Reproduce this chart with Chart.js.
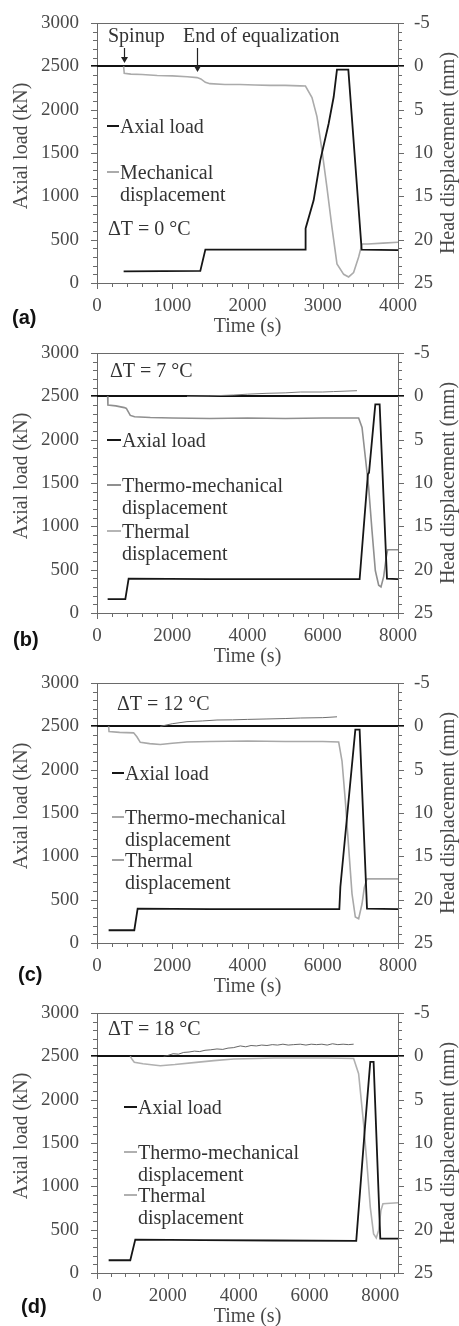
<!DOCTYPE html>
<html><head><meta charset="utf-8">
<script src="https://cdn.jsdelivr.net/npm/chart.js@4.4.1/dist/chart.umd.min.js"></script>
<style>
html,body{margin:0;padding:0;background:#fff;overflow:hidden;width:459px;height:1326px;position:relative;}
canvas{position:absolute;left:0;}
</style></head><body>
<canvas id="ca" width="459" height="345" style="top:0px"></canvas>
<canvas id="cb" width="459" height="345" style="top:330px"></canvas>
<canvas id="cc" width="459" height="345" style="top:660px"></canvas>
<canvas id="cd" width="459" height="345" style="top:990px"></canvas>
<script>
// ---------- DATA (time in s; load in kN; displacement in mm) ----------
// Panel (a)  ΔT = 0 °C
const aLoadT = [354, 1373, 1440, 2767, 2772, 2879, 2967, 3078, 3145, 3189, 3340, 3517, 4000];
const aLoadV = [135, 140, 385, 385, 630, 954, 1415, 1838, 2146, 2462, 2462, 385, 380];
const aMechT = [354, 362, 450, 600, 800, 1000, 1200, 1330, 1380, 1440, 1500, 1700, 1900, 2100, 2300, 2500, 2700, 2770, 2857, 2923, 2990, 3056, 3123, 3189, 3278, 3344, 3410, 3477, 3521, 3600, 3800, 4000];
const aMechV = [0, 0.8, 0.9, 0.95, 1.05, 1.1, 1.2, 1.3, 1.45, 1.85, 2.0, 2.1, 2.1, 2.15, 2.2, 2.2, 2.25, 2.27, 3.6, 5.8, 9.7, 14.0, 18.6, 22.8, 24.0, 24.3, 23.8, 22.0, 20.5, 20.5, 20.4, 20.3];
// Panel (b)  ΔT = 7 °C
const bLoadT = [283, 753, 841, 3000, 6980, 7200, 7230, 7397, 7512, 7707, 8000];
const bLoadV = [160, 160, 396, 390, 390, 1600, 1620, 2408, 2408, 396, 390];
const bTmT = [283, 290, 500, 726, 780, 885, 1000, 1417, 2000, 3000, 4000, 5000, 6000, 6954, 7044, 7131, 7220, 7309, 7397, 7486, 7548, 7619, 7690, 7725, 8000];
const bTmV = [0, 1.0, 1.1, 1.3, 1.4, 2.2, 2.35, 2.45, 2.5, 2.55, 2.5, 2.55, 2.5, 2.5, 3.6, 7.0, 10.5, 15.5, 20.1, 21.8, 22.0, 20.8, 18.5, 17.7, 17.7];
const bThT = [2392, 3000, 3632, 4000, 4518, 5000, 5404, 6000, 6290, 6910];
const bThV = [0, -0.05, -0.15, -0.25, -0.35, -0.4, -0.5, -0.5, -0.55, -0.65];
// Panel (c)  ΔT = 12 °C
const cLoadT = [309, 991, 1080, 3000, 6441, 6468, 6866, 6980, 7176, 8000];
const cLoadV = [147, 147, 397, 390, 390, 646, 2462, 2462, 397, 390];
const cTmT = [309, 320, 600, 973, 1060, 1151, 1400, 1683, 2000, 2392, 3000, 4000, 5000, 6000, 6423, 6512, 6600, 6689, 6777, 6866, 6954, 7043, 7105, 7176, 8000];
const cTmV = [0, 0.6, 0.7, 0.75, 1.2, 1.85, 2.0, 2.1, 1.95, 1.8, 1.75, 1.7, 1.75, 1.75, 1.8, 4.0, 8.6, 14.0, 19.3, 22.0, 22.2, 20.5, 18.6, 17.6, 17.6];
const cThT = [1683, 2000, 2392, 2800, 3189, 3600, 4000, 4518, 5000, 5404, 6000, 6379];
const cThV = [0, -0.3, -0.54, -0.62, -0.73, -0.75, -0.8, -0.85, -0.9, -0.96, -1.0, -1.1];
// Panel (d)  ΔT = 18 °C
const dLoadT = [329, 940, 1081, 3000, 5000, 7321, 7575, 7717, 7811, 8000, 8500];
const dLoadV = [147, 147, 385, 380, 375, 370, 1723, 2435, 2435, 397, 397];
const dTmT = [940, 1000, 1053, 1300, 1600, 1788, 2200, 2800, 3300, 3859, 4500, 5000, 5741, 6500, 7247, 7388, 7529, 7623, 7717, 7811, 7886, 7952, 8018, 8075, 8500];
const dTmV = [0, 0.4, 0.69, 0.85, 1.0, 1.08, 0.95, 0.7, 0.5, 0.3, 0.25, 0.2, 0.2, 0.2, 0.25, 2.0, 7.8, 12.4, 17.4, 20.5, 20.95, 20.1, 17.8, 17.0, 16.9];
const dThT = [1882, 2000, 2150, 2300, 2447, 2600, 2750, 2900, 3050, 3200, 3388, 3550, 3700, 3850, 4047, 4200, 4350, 4500, 4650, 4800, 4950, 5100, 5250, 5400, 5550, 5741, 5900, 6050, 6200, 6350, 6500, 6650, 6800, 6950, 7100, 7247];
const dThV = [0, -0.1, -0.3, -0.25, -0.45, -0.5, -0.6, -0.55, -0.7, -0.75, -0.85, -0.8, -0.95, -1.0, -1.2, -1.1, -1.25, -1.2, -1.3, -1.25, -1.35, -1.3, -1.4, -1.3, -1.35, -1.4, -1.3, -1.4, -1.35, -1.4, -1.3, -1.45, -1.35, -1.4, -1.35, -1.4];

// Axis tick definitions
const loadTicks = [0, 500, 1000, 1500, 2000, 2500, 3000];
const dispTicks = [-5, 0, 5, 10, 15, 20, 25];

// ---------- STYLE ----------
const SERIF = '"Liberation Serif", "Times New Roman", serif';
const SANS = '"Liberation Sans", Arial, sans-serif';
const TXT = '#4a4a4a';
const LTXT = '#333';
const AX = '#6a6a6a';
const LOAD = '#161616';
const AREA = {left: 97, right: 398, top: 23, bottom: 283};

function pts(t, v) { return t.map((x, i) => ({x: x, y: v[i]})); }

const panels = [
  {id: 'ca', xMax: 4000, xStep: 1000, xMinor: 200, tag: '(a)', tagPos: [12, 324], dT: 'ΔT = 0 °C', dTpos: [108, 235],
   series: [
     {label: 'Axial load', data: pts(aLoadT, aLoadV), axis: 'y', color: LOAD, w: 1.8},
     {label: 'Mechanical\ndisplacement', data: pts(aMechT, aMechV), axis: 'y2', color: '#ababab', w: 1.6}],
   legend: {x: 107, tx: 120, ys: [133, 179]},
   arrows: [{text: 'Spinup', tx: 108, t: 354, y1: 48, y2: 63}, {text: 'End of equalization', tx: 183, t: 1329, y1: 48, y2: 72}]},
  {id: 'cb', xMax: 8000, xStep: 2000, xMinor: 400, tag: '(b)', tagPos: [13, 316], dT: 'ΔT = 7 °C', dTpos: [110, 47],
   series: [
     {label: 'Axial load', data: pts(bLoadT, bLoadV), axis: 'y', color: LOAD, w: 1.8},
     {label: 'Thermo-mechanical\ndisplacement', data: pts(bTmT, bTmV), axis: 'y2', color: '#8f8f8f', w: 1.6},
     {label: 'Thermal\ndisplacement', data: pts(bThT, bThV), axis: 'y2', color: '#7a7a7a', w: 1.0, lc: '#b5b5b5'}],
   legend: {x: 107, tx: 122, ys: [117, 162, 208]}, arrows: []},
  {id: 'cc', xMax: 8000, xStep: 2000, xMinor: 400, tag: '(c)', tagPos: [18, 321], dT: 'ΔT = 12 °C', dTpos: [117, 50],
   series: [
     {label: 'Axial load', data: pts(cLoadT, cLoadV), axis: 'y', color: LOAD, w: 1.8},
     {label: 'Thermo-mechanical\ndisplacement', data: pts(cTmT, cTmV), axis: 'y2', color: '#a8a8a8', w: 1.6},
     {label: 'Thermal\ndisplacement', data: pts(cThT, cThV), axis: 'y2', color: '#6e6e6e', w: 1.0, lc: '#a0a0a0'}],
   legend: {x: 112, tx: 125, ys: [120, 164, 207]}, arrows: []},
  {id: 'cd', xMax: 8500, xStep: 2000, xMinor: 400, tag: '(d)', tagPos: [21, 323], dT: 'ΔT = 18 °C', dTpos: [108, 45],
   series: [
     {label: 'Axial load', data: pts(dLoadT, dLoadV), axis: 'y', color: LOAD, w: 1.8},
     {label: 'Thermo-mechanical\ndisplacement', data: pts(dTmT, dTmV), axis: 'y2', color: '#b0b0b0', w: 1.6},
     {label: 'Thermal\ndisplacement', data: pts(dThT, dThV), axis: 'y2', color: '#555', w: 0.9, lc: '#b0b0b0'}],
   legend: {x: 124, tx: 138, ys: [124, 169, 212]}, arrows: []}
];

const deco = {
  id: 'deco',
  beforeDatasetsDraw(chart) {
    const ctx = chart.ctx, ca = chart.chartArea, y2 = chart.scales.y2;
    const yz = Math.round(y2.getPixelForValue(0));
    ctx.save();
    ctx.strokeStyle = '#111'; ctx.lineWidth = 2;
    ctx.beginPath(); ctx.moveTo(ca.left - 6, yz); ctx.lineTo(ca.right + 6, yz); ctx.stroke();
    ctx.restore();
  },
  afterDraw(chart, args, o) {
    const ctx = chart.ctx, ca = chart.chartArea, sx = chart.scales.x, sy = chart.scales.y, sy2 = chart.scales.y2;
    const p = o.panel;
    ctx.save();
    ctx.strokeStyle = AX; ctx.lineWidth = 1;
    ctx.beginPath(); ctx.moveTo(ca.left, Math.round(ca.top) + 0.5); ctx.lineTo(ca.right, Math.round(ca.top) + 0.5); ctx.stroke();
    ctx.beginPath();
    for (let v = 0; v <= 3000; v += 100) {
      const py = Math.round(sy.getPixelForValue(v)) + 0.5, len = v % 500 === 0 ? 6 : 4;
      ctx.moveTo(ca.left - len, py); ctx.lineTo(ca.left, py);
    }
    for (let v = -5; v <= 25; v += 1) {
      const py = Math.round(sy2.getPixelForValue(v)) + 0.5, len = v % 5 === 0 ? 6 : 4;
      ctx.moveTo(ca.right, py); ctx.lineTo(ca.right + len, py);
    }
    for (let v = 0; v <= p.xMax; v += p.xMinor) {
      const px = Math.round(sx.getPixelForValue(v)) + 0.5, len = v % p.xStep === 0 ? 6 : 4;
      ctx.moveTo(px, ca.bottom); ctx.lineTo(px, ca.bottom + len);
    }
    ctx.stroke();
    ctx.fillStyle = TXT; ctx.font = '20px ' + SERIF; ctx.textAlign = 'center'; ctx.textBaseline = 'middle';
    ctx.save(); ctx.translate(22, 146); ctx.rotate(-Math.PI / 2); ctx.fillText('Axial load (kN)', 0, 0); ctx.restore();
    ctx.save(); ctx.translate(449, 153); ctx.rotate(-Math.PI / 2); ctx.fillText('Head displacement (mm)', 0, 0); ctx.restore();
    ctx.textAlign = 'left'; ctx.textBaseline = 'alphabetic';
    ctx.fillStyle = '#111'; ctx.font = 'bold 20px ' + SANS;
    ctx.fillText(p.tag, p.tagPos[0], p.tagPos[1]);
    ctx.fillStyle = LTXT; ctx.font = '20px ' + SERIF;
    ctx.fillText(p.dT, p.dTpos[0], p.dTpos[1]);
    const lg = p.legend;
    chart.data.datasets.forEach((ds, i) => {
      const lines = ds.label.split('\n');
      const by = lg.ys[i];
      ctx.strokeStyle = ds.legendColor || ds.borderColor; ctx.lineWidth = 2;
      ctx.beginPath(); ctx.moveTo(lg.x, by - 7); ctx.lineTo(lg.tx - 1, by - 7); ctx.stroke();
      ctx.fillStyle = LTXT;
      lines.forEach((ln, k) => ctx.fillText(ln, lg.tx, by + k * 22));
    });
    p.arrows.forEach(a => {
      ctx.fillStyle = LTXT; ctx.fillText(a.text, a.tx, 42);
      const ax = Math.round(sx.getPixelForValue(a.t)) + 0.5;
      ctx.strokeStyle = '#222'; ctx.lineWidth = 1.2;
      ctx.beginPath(); ctx.moveTo(ax, a.y1); ctx.lineTo(ax, a.y2 - 4); ctx.stroke();
      ctx.fillStyle = '#222';
      ctx.beginPath(); ctx.moveTo(ax - 3.5, a.y2 - 6); ctx.lineTo(ax + 3.5, a.y2 - 6); ctx.lineTo(ax, a.y2); ctx.closePath(); ctx.fill();
    });
    ctx.restore();
  }
};

const plain = v => String(v);
// invisible tick gap used to space the vertical-axis labels from the axis line
const gapGrid = len => ({display: true, drawOnChartArea: false, drawTicks: true, tickLength: len, tickColor: 'rgba(0,0,0,0)'});

panels.forEach(p => {
  const tickFont = {family: SERIF, size: 19};
  const canvas = document.getElementById(p.id);
  const H = 345;
  const fit = {x: H - AREA.bottom, y: AREA.left, y2: 459 - AREA.right};
  const cfgPad = {top: AREA.top, bottom: 0, left: 0, right: 0};
  const chart = new Chart(canvas, {
    type: 'line',
    data: {
      datasets: p.series.map(s => ({
        label: s.label, data: s.data, yAxisID: s.axis, borderColor: s.color, legendColor: s.lc,
        borderWidth: s.w, pointRadius: 0, tension: 0, fill: false
      }))
    },
    options: {
      responsive: false, animation: false, events: [],
      layout: {padding: cfgPad},
      plugins: {legend: {display: false}, tooltip: {enabled: false}, deco: {panel: p}},
      scales: {
        x: {type: 'linear', min: 0, max: p.xMax,
            afterBuildTicks: s => { const t = []; for (let v = 0; v <= Math.min(p.xMax, 8000); v += p.xStep) t.push({value: v}); s.ticks = t; },
            ticks: {color: TXT, font: tickFont, padding: 4, maxRotation: 0, autoSkip: false, callback: plain},
            grid: {display: false}, border: {display: true, color: AX, width: 1},
            title: {display: true, text: 'Time (s)', color: TXT, font: {family: SERIF, size: 20}, padding: {top: 0, bottom: 6}},
            afterFit: s => { s.height = fit.x; }},
        y: {position: 'left', min: 0, max: 3000,
            afterBuildTicks: s => { s.ticks = loadTicks.map(v => ({value: v})); },
            ticks: {color: TXT, font: tickFont, padding: 0, callback: plain},
            grid: gapGrid(18), border: {display: true, color: AX, width: 1},
            afterFit: s => { s.width = fit.y; }},
        y2: {position: 'right', min: -5, max: 25, reverse: true,
            afterBuildTicks: s => { s.ticks = dispTicks.map(v => ({value: v})); },
            ticks: {color: TXT, font: tickFont, padding: 0, callback: plain},
            grid: gapGrid(16), border: {display: true, color: AX, width: 1},
            afterFit: s => { s.width = fit.y2; }}
      }
    },
    plugins: [deco]
  });
  // nudge the plot rectangle onto the target area if the layout differs
  for (let k = 0; k < 3; k++) {
    const ca = chart.chartArea;
    const dt = AREA.top - ca.top, db = ca.bottom - AREA.bottom, dl = AREA.left - ca.left, dr = ca.right - AREA.right;
    if (Math.abs(dt) < 0.3 && Math.abs(db) < 0.3 && Math.abs(dl) < 0.3 && Math.abs(dr) < 0.3) break;
    cfgPad.top += dt;
    chart.config.options.layout.padding = Object.assign({}, cfgPad);
    fit.x += db; fit.y += dl; fit.y2 += dr;
    chart.update();
  }
});
</script>
</body></html>
